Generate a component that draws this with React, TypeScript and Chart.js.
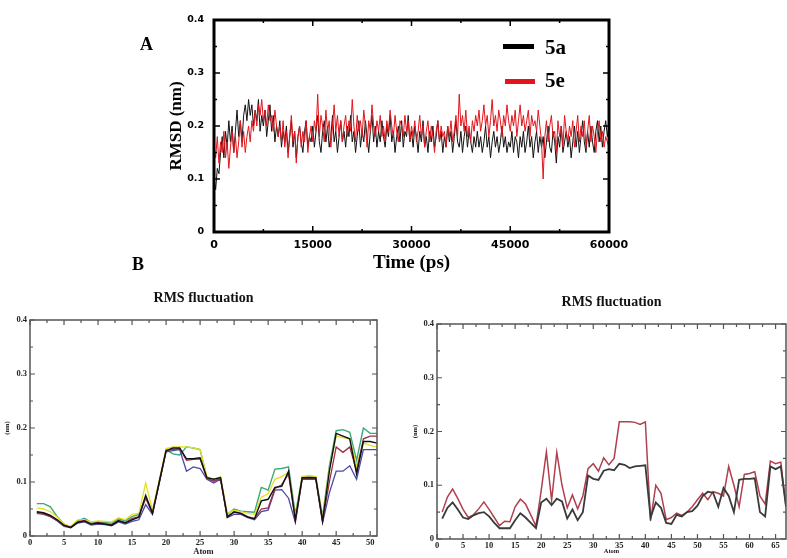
import React, { useEffect, useRef } from 'react';
import { Chart, registerables } from 'chart.js';
Chart.register(...registerables);

// ---------- Panel A: RMSD (nm) vs time (ps), 0..60000 ps ----------
const timeRange = [0, 60000];
const rmsd5a = [
  .10,.08,.12,.11,.15,.18,.14,.19,.16,.21,.17,.20,.15,.19,.23,.18,.21,.17,.22,.24,
  .21,.25,.22,.24,.20,.23,.21,.25,.19,.22,.20,.23,.18,.21,.24,.19,.22,.17,.20,.18,
  .21,.16,.19,.17,.20,.15,.18,.21,.16,.19,.14,.18,.20,.17,.15,.19,.21,.16,.18,.17,
  .20,.16,.19,.22,.17,.15,.19,.21,.17,.20,.16,.18,.22,.17,.19,.15,.18,.21,.17,.19,
  .16,.20,.18,.22,.17,.19,.15,.18,.21,.16,.19,.17,.21,.18,.15,.19,.22,.17,.20,.16,
  .19,.17,.21,.18,.16,.20,.18,.22,.17,.19,.15,.18,.20,.17,.21,.16,.19,.18,.22,.17,
  .19,.16,.20,.18,.15,.19,.17,.21,.16,.18,.15,.19,.17,.20,.16,.18,.21,.17,.19,.15,
  .18,.16,.20,.17,.19,.15,.18,.21,.17,.16,.19,.15,.18,.20,.16,.19,.17,.15,.18,.16,
  .19,.16,.18,.15,.17,.20,.16,.18,.14,.17,.19,.16,.18,.15,.17,.20,.16,.18,.15,.17,
  .16,.19,.15,.18,.17,.14,.18,.16,.19,.15,.17,.20,.16,.18,.14,.17,.19,.15,.18,.16,
  .18,.14,.17,.20,.16,.15,.19,.17,.13,.18,.16,.20,.15,.17,.19,.16,.18,.14,.17,.20,
  .16,.19,.15,.18,.21,.17,.15,.19,.16,.20,.17,.15,.19,.21,.17,.20,.16,.19,.21,.18,
  .20,
];
const rmsd5e = [
  .16,.14,.18,.13,.17,.15,.19,.14,.17,.12,.16,.19,.15,.18,.14,.17,.21,.16,.19,.15,
  .18,.20,.17,.21,.19,.23,.20,.24,.22,.25,.21,.23,.20,.24,.21,.22,.19,.23,.20,.18,
  .20,.17,.21,.16,.19,.14,.18,.22,.17,.19,.13,.18,.20,.16,.19,.17,.21,.15,.18,.20,
  .17,.21,.19,.26,.18,.22,.20,.17,.23,.19,.21,.16,.20,.24,.19,.22,.18,.21,.17,.20,
  .22,.18,.21,.19,.25,.20,.17,.22,.19,.21,.18,.23,.20,.16,.21,.19,.24,.20,.18,.21,
  .19,.22,.18,.20,.17,.21,.19,.23,.20,.18,.22,.19,.17,.21,.20,.18,.22,.19,.21,.17,
  .20,.18,.21,.17,.19,.22,.18,.20,.16,.19,.21,.17,.20,.18,.15,.19,.21,.17,.20,.18,
  .19,.16,.20,.18,.21,.17,.19,.22,.18,.26,.20,.22,.19,.23,.18,.20,.17,.21,.19,.22,
  .20,.23,.19,.21,.24,.20,.22,.18,.21,.25,.20,.22,.19,.23,.21,.18,.22,.20,.24,.21,
  .19,.22,.20,.23,.18,.21,.24,.20,.22,.19,.21,.23,.18,.22,.20,.21,.19,.23,.20,.17,
  .10,.18,.21,.17,.20,.22,.18,.19,.15,.21,.18,.20,.16,.22,.19,.17,.20,.18,.21,.16,
  .19,.22,.17,.20,.18,.21,.16,.19,.22,.17,.20,.18,.15,.19,.21,.17,.19,.16,.18,.17,
  .16,
];
const seriesNamesA = ['5a', '5e'];

// ---------- Panel B left: RMS fluctuation, atoms 1..51 ----------
const leftBlack = [
  .045,.043,.038,.030,.020,.016,.025,.028,.022,.024,
  .022,.020,.028,.024,.030,.035,.075,.042,.100,.158,
  .163,.163,.143,.143,.145,.108,.105,.108,.035,.045,
  .042,.035,.032,.065,.068,.090,.092,.120,.030,.108,
  .108,.108,.028,.120,.190,.185,.180,.115,.175,.175,.172,
];
const leftMaroon = [
  .042,.040,.036,.029,.019,.016,.026,.029,.022,.025,
  .023,.021,.029,.025,.032,.036,.070,.042,.100,.158,
  .160,.162,.140,.142,.143,.106,.102,.106,.036,.044,
  .042,.036,.032,.050,.052,.088,.095,.115,.028,.106,
  .106,.106,.027,.100,.165,.155,.165,.120,.180,.185,.185,
];
const leftBlue = [
  .044,.042,.036,.028,.018,.015,.024,.026,.020,.022,
  .021,.019,.026,.022,.027,.030,.058,.040,.098,.156,
  .158,.160,.120,.128,.125,.105,.098,.105,.034,.040,
  .040,.034,.030,.045,.048,.085,.086,.070,.025,.105,
  .105,.105,.025,.080,.120,.120,.130,.105,.160,.160,.160,
];
const leftYellow = [
  .052,.050,.045,.035,.022,.018,.030,.030,.026,.028,
  .027,.026,.034,.030,.040,.042,.098,.048,.105,.162,
  .165,.165,.165,.163,.160,.110,.105,.110,.042,.048,
  .045,.042,.040,.072,.078,.105,.110,.118,.035,.110,
  .112,.110,.032,.125,.185,.182,.180,.130,.172,.168,.165,
];
const leftGreen = [
  .060,.060,.054,.036,.022,.016,.028,.033,.025,.026,
  .025,.024,.032,.028,.036,.040,.072,.045,.100,.160,
  .152,.150,.165,.163,.160,.108,.100,.108,.040,.050,
  .046,.045,.044,.090,.085,.124,.125,.128,.040,.110,
  .110,.110,.036,.130,.195,.197,.192,.140,.200,.190,.190,
];

// ---------- Panel B right: RMS fluctuation, atoms 1..67 ----------
const rightRed = [
  .050,.078,.093,.075,.055,.040,.045,.056,.069,.055,
  .040,.025,.033,.032,.060,.074,.065,.045,.024,.090,
  .162,.072,.161,.100,.058,.082,.056,.080,.131,.140,
  .126,.151,.138,.150,.218,.218,.218,.217,.213,.218,
  .034,.100,.085,.036,.040,.048,.044,.050,.060,.073,
  .085,.073,.088,.085,.080,.135,.100,.060,.120,.122,
  .125,.080,.065,.145,.140,.143,.060,
];
const rightBlack = [
  .038,.058,.068,.055,.040,.037,.044,.048,.050,.042,
  .030,.020,.020,.020,.035,.048,.040,.030,.020,.068,
  .075,.063,.075,.070,.038,.055,.035,.050,.118,.112,
  .110,.127,.130,.128,.140,.138,.132,.135,.136,.137,
  .040,.068,.058,.030,.028,.045,.042,.050,.052,.062,
  .080,.088,.086,.060,.095,.080,.050,.110,.112,.112,
  .113,.050,.042,.135,.130,.135,.060,
];

const fmtY = (v: number) => (v === 0 ? '0' : Number(v).toFixed(1));

function framePlugin(cfg: {
  frameColor: string; frameWidth: number; tickColor: string; tickWidth: number; major: number; minor: number;
}) {
  return {
    id: 'frameTicks',
    afterDatasetsDraw(chart: any) {
      const { ctx, chartArea: a } = chart;
      const xs = chart.scales.x;
      const ys = chart.scales.y;
      ctx.save();
      ctx.strokeStyle = cfg.tickColor;
      ctx.lineWidth = cfg.tickWidth;
      ctx.beginPath();
      const xv = xs.ticks.map((t: any) => t.value);
      const yv = ys.ticks.map((t: any) => t.value);
      const xStep = xv[1] - xv[0];
      const yStep = yv[1] - yv[0];
      const xTick = (v: number, len: number) => {
        if (v < xs.min || v > xs.max) return;
        const p = xs.getPixelForValue(v);
        ctx.moveTo(p, a.bottom); ctx.lineTo(p, a.bottom - len);
        ctx.moveTo(p, a.top); ctx.lineTo(p, a.top + len);
      };
      const yTick = (v: number, len: number) => {
        if (v < ys.min || v > ys.max) return;
        const p = ys.getPixelForValue(v);
        ctx.moveTo(a.left, p); ctx.lineTo(a.left + len, p);
        ctx.moveTo(a.right, p); ctx.lineTo(a.right - len, p);
      };
      xv.forEach((v: number) => { xTick(v, cfg.major); xTick(v + xStep / 2, cfg.minor); });
      yv.forEach((v: number) => { yTick(v, cfg.major); yTick(v + yStep / 2, cfg.minor); });
      ctx.stroke();
      ctx.strokeStyle = cfg.frameColor;
      ctx.lineWidth = cfg.frameWidth;
      ctx.strokeRect(a.left, a.top, a.right - a.left, a.bottom - a.top);
      ctx.restore();
    },
  };
}

function toXY(xs: number[], ys: number[]) {
  return ys.map((y, i) => ({ x: xs[i], y }));
}

export default function App() {
  const topRef = useRef<HTMLCanvasElement>(null);
  const blRef = useRef<HTMLCanvasElement>(null);
  const brRef = useRef<HTMLCanvasElement>(null);

  useEffect(() => {
    const tA = rmsd5a.map((_, i) => timeRange[0] + (i * (timeRange[1] - timeRange[0])) / (rmsd5a.length - 1));
    const tE = rmsd5e.map((_, i) => timeRange[0] + (i * (timeRange[1] - timeRange[0])) / (rmsd5e.length - 1));
    const atomsL = leftBlack.map((_, i) => i + 1);
    const atomsR = rightRed.map((_, i) => i + 1);

    const serif = 'Liberation Serif';
    const noGrid = { display: false, drawTicks: false };
    const top = new Chart(topRef.current!, {
      type: 'line',
      data: {
        datasets: [
          { label: seriesNamesA[1], data: toXY(tE, rmsd5e), borderColor: '#e3141b', borderWidth: 1, order: 0 },
          { label: seriesNamesA[0], data: toXY(tA, rmsd5a), borderColor: '#111111', borderWidth: 1, order: 1 },
        ],
      },
      options: {
        responsive: false,
        animation: false,
        layout: { padding: { left: 35, top: 20, right: 31, bottom: 0 } },
        elements: { point: { radius: 0 }, line: { tension: 0 } },
        plugins: { legend: { display: false }, tooltip: { enabled: false }, title: { display: false } },
        scales: {
          x: {
            type: 'linear', min: 0, max: 60000,
            grid: noGrid, border: { display: false },
            ticks: {
              stepSize: 15000, autoSkip: false, maxRotation: 0, includeBounds: false, padding: 7,
              color: '#000', font: { family: 'DejaVu Sans', size: 11, weight: 'bold' },
              callback: (v: any) => String(v),
            },
            title: { display: true, text: 'Time (ps)', color: '#000', font: { family: serif, size: 19, weight: 'bold' }, padding: { top: 0, bottom: 6 } },
            afterFit: (s: any) => { s.height = 48; },
          },
          y: {
            type: 'linear', min: 0, max: 0.4,
            grid: noGrid, border: { display: false },
            ticks: {
              stepSize: 0.1, padding: 10, color: '#000',
              font: { family: 'DejaVu Sans', size: 9.5, weight: 'bold' },
              callback: (v: any) => fmtY(v),
            },
            title: { display: true, text: 'RMSD (nm)', color: '#000', font: { family: serif, size: 17, weight: 'bold' }, padding: { top: 1, bottom: 0 } },
            afterFit: (s: any) => { s.width = 49; },
          },
        },
      } as any,
      plugins: [framePlugin({ frameColor: '#000', frameWidth: 3, tickColor: '#000', tickWidth: 1.5, major: 6, minor: 3 })],
    });

    const bottomOptions = (padL: number, padR: number, yWidth: number, xHeight: number, titlePad: { top: number; bottom: number }, smallSize: number, atomPadBottom: number, xMax: number) => ({
      responsive: false,
      animation: false,
      layout: { padding: { left: padL, top: 0, right: padR, bottom: 0 } },
      elements: { point: { radius: 0 }, line: { tension: 0 } },
      plugins: {
        legend: { display: false }, tooltip: { enabled: false },
        title: { display: true, text: 'RMS fluctuation', fullSize: false, color: '#111', font: { family: serif, size: 14, weight: 'bold' }, padding: titlePad },
      },
      scales: {
        x: {
          type: 'linear', min: 0, max: xMax,
          grid: noGrid, border: { display: false },
          ticks: {
            stepSize: 5, autoSkip: false, maxRotation: 0, includeBounds: false, padding: 2,
            color: '#222', font: { family: serif, size: 8.5, weight: 'bold' },
            callback: (v: any) => String(v),
          },
          title: { display: true, text: 'Atom', color: '#222', font: { family: serif, size: smallSize, weight: 'bold' }, padding: { top: 0, bottom: atomPadBottom } },
          afterFit: (s: any) => { s.height = xHeight; },
        },
        y: {
          type: 'linear', min: 0, max: 0.4,
          grid: noGrid, border: { display: false },
          ticks: {
            stepSize: 0.1, padding: 3, color: '#222',
            font: { family: serif, size: 8.5, weight: 'bold' },
            callback: (v: any) => fmtY(v),
          },
          title: { display: true, text: '(nm)', color: '#222', font: { family: serif, size: 6.5, weight: 'bold' }, padding: { top: 3, bottom: 0 } },
          afterFit: (s: any) => { s.width = yWidth; },
        },
      },
    });

    const bl = new Chart(blRef.current!, {
      type: 'line',
      data: {
        datasets: [
          { label: 'black', data: toXY(atomsL, leftBlack), borderColor: '#111111', borderWidth: 1.4 },
          { label: 'maroon', data: toXY(atomsL, leftMaroon), borderColor: '#9a2f4a', borderWidth: 1.3 },
          { label: 'blue', data: toXY(atomsL, leftBlue), borderColor: '#4a4aa8', borderWidth: 1.3 },
          { label: 'yellow', data: toXY(atomsL, leftYellow), borderColor: '#e2e020', borderWidth: 1.3 },
          { label: 'green', data: toXY(atomsL, leftGreen), borderColor: '#3aa878', borderWidth: 1.4 },
        ],
      },
      options: bottomOptions(0, 13, 30, 22, { top: 9.6, bottom: 13.6 }, 8.5, 1, 51) as any,
      plugins: [framePlugin({ frameColor: '#555', frameWidth: 1.5, tickColor: '#555', tickWidth: 1.2, major: 5, minor: 3 })],
    });

    const br = new Chart(brRef.current!, {
      type: 'line',
      data: {
        datasets: [
          { label: 'black', data: toXY(atomsR, rightBlack), borderColor: '#3a3a3a', borderWidth: 1.8 },
          { label: 'red', data: toXY(atomsR, rightRed), borderColor: '#b0404e', borderWidth: 1.5 },
        ],
      },
      options: bottomOptions(13, 1, 29, 19, { top: 13.6, bottom: 13.6 }, 6.5, 2.5, 67) as any,
      plugins: [framePlugin({ frameColor: '#555', frameWidth: 1.5, tickColor: '#555', tickWidth: 1.2, major: 5, minor: 3 })],
    });

    return () => { top.destroy(); bl.destroy(); br.destroy(); };
  }, []);

  const serifCss = '"Liberation Serif", "Times New Roman", serif';
  const label = (text: string, left: number, topPx: number, size: number, color = '#000') => (
    <div style={{ position: 'absolute', left, top: topPx, fontFamily: serifCss, fontWeight: 'bold', fontSize: size, lineHeight: 1, color, whiteSpace: 'nowrap' }}>{text}</div>
  );

  return (
    <div style={{ position: 'absolute', left: 0, top: 0, width: 787, height: 558, background: '#fff', overflow: 'hidden' }}>
      <canvas ref={topRef} width={510} height={280} style={{ position: 'absolute', left: 130, top: 0, width: 510, height: 280 }} />
      <canvas ref={blRef} width={390} height={278} style={{ position: 'absolute', left: 0, top: 280, width: 390, height: 278 }} />
      <canvas ref={brRef} width={392} height={278} style={{ position: 'absolute', left: 395, top: 280, width: 392, height: 278 }} />
      {label('A', 140, 35, 18)}
      {label('B', 132, 255, 18)}
      <div style={{ position: 'absolute', left: 503, top: 44, width: 31, height: 5, background: '#000' }} />
      {label(seriesNamesA[0], 545, 37, 21)}
      <div style={{ position: 'absolute', left: 505, top: 79, width: 30, height: 5, background: '#e3141b' }} />
      {label(seriesNamesA[1], 545, 70, 21)}
    </div>
  );
}
